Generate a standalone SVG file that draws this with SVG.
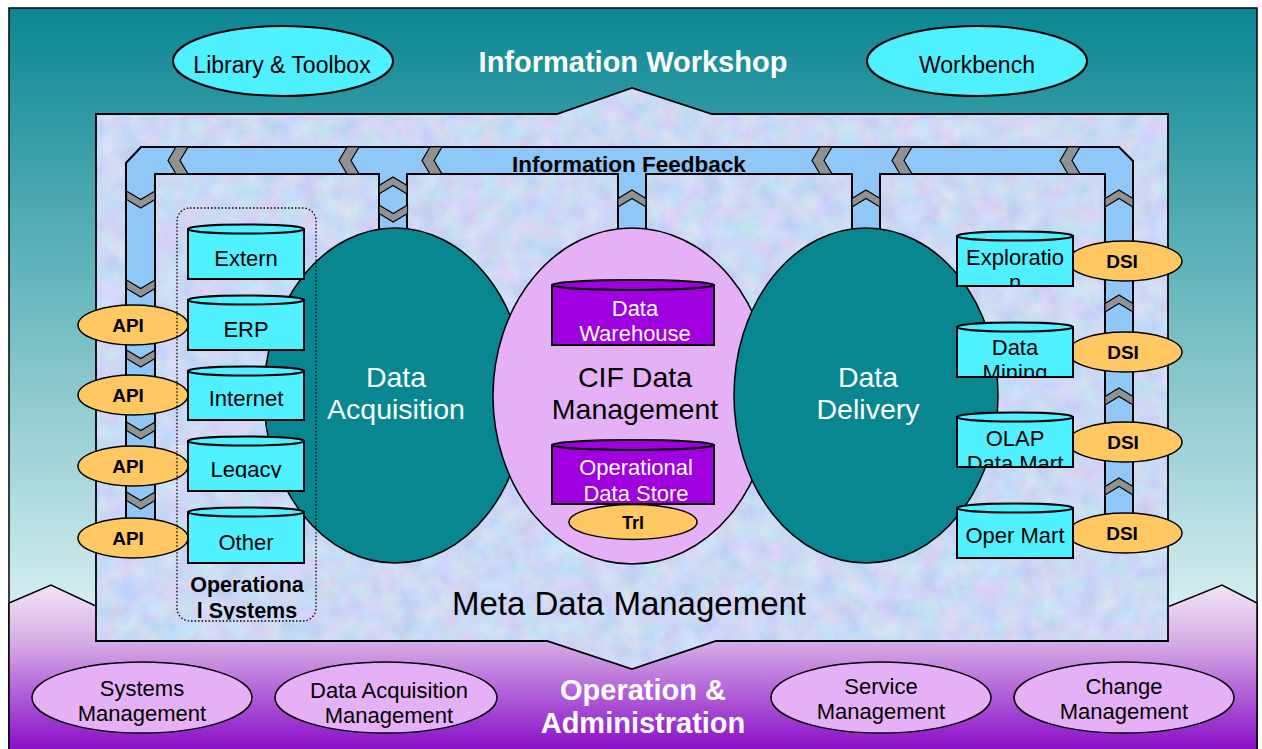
<svg xmlns="http://www.w3.org/2000/svg" width="1262" height="749" viewBox="0 0 1262 749">
<defs>
  <linearGradient id="gTop" x1="0" y1="8" x2="0" y2="610" gradientUnits="userSpaceOnUse">
    <stop offset="0" stop-color="#0a8793"/>
    <stop offset="1" stop-color="#d6eef0"/>
  </linearGradient>
  <linearGradient id="gBot" x1="0" y1="585" x2="0" y2="749" gradientUnits="userSpaceOnUse">
    <stop offset="0" stop-color="#f2e4f4"/>
    <stop offset="0.35" stop-color="#d6ace6"/>
    <stop offset="1" stop-color="#8a0ec8"/>
  </linearGradient>
  <filter id="tex" x="0" y="0" width="1" height="1" color-interpolation-filters="sRGB">
    <feTurbulence type="fractalNoise" baseFrequency="0.05" numOctaves="3" seed="7"/>
    <feColorMatrix type="matrix" values="0.22 0 0 0 0.69  0 0.15 0 0 0.775  0 0 0.1 0 0.91  0 0 0 0 1"/>
    <feComposite in2="SourceAlpha" operator="in"/>
  </filter>
  <path id="chL" d="M8,0 L20,0 L12,13.5 L20,27 L8,27 L0,13.5 Z"/>
  <path id="chD" d="M0,0 L14.25,8.5 L28.5,0 L28.5,8.5 L14.25,17 L0,8.5 Z"/>
  <path id="chU" d="M0,8.5 L14,0 L28,8.5 L28,17 L14,8.5 L0,17 Z"/>
  <clipPath id="cLegacy"><rect x="188" y="436" width="116" height="42"/></clipPath>
  <clipPath id="cExpl"><rect x="957" y="231" width="116" height="55"/></clipPath>
  <clipPath id="cMine"><rect x="957" y="322" width="116" height="55"/></clipPath>
  <clipPath id="cOlap"><rect x="957" y="412" width="116" height="55"/></clipPath>
  <clipPath id="cOps"><rect x="177" y="560" width="140" height="59.5"/></clipPath>
  <style>
    text { font-family: "Liberation Sans", Arial, sans-serif; text-anchor: middle; }
    .ln { stroke: #000; stroke-width: 1.8; }
    .cyan { fill: #4ff0ff; stroke: #000; stroke-width: 2; }
    .purp { fill: #a000e0; stroke: #000; stroke-width: 2; }
    .gold { fill: #ffc862; stroke: #000; stroke-width: 1.5; }
    .lav { fill: #e6b0f6; stroke: #000; stroke-width: 1.5; }
    .teal { fill: #088790; stroke: #000; stroke-width: 1.5; }
    .chev { fill: #929292; stroke: #000; stroke-width: 1.2; }
    .t22 { font-size: 22px; fill: #000; }
    .t23 { font-size: 23px; fill: #000; }
    .w22 { font-size: 22px; fill: #fff; }
    .w28 { font-size: 28.5px; fill: #fff; }
    .b19 { font-size: 19px; font-weight: bold; fill: #000; }
    .bw29 { font-size: 29px; font-weight: bold; fill: #fff; }
  </style>
</defs>

<g id="background">
  <rect x="9" y="8" width="1248" height="745" fill="url(#gTop)" stroke="#000" stroke-width="1.5"/>
  <path d="M9,603 L51,585 L100,608 L1165,608 L1222,585 L1257,603 L1257,752 L9,752 Z" fill="url(#gBot)" stroke="#000" stroke-width="1.5"/>
</g>

<g id="meta-panel">
  <path d="M96,114 L557,114 L632,88 L712,114 L1168,114 L1168,641 L716,641 L632,669 L547,641 L96,641 Z" fill="#fff" filter="url(#tex)"/>
  <path d="M96,114 L557,114 L632,88 L712,114 L1168,114 L1168,641 L716,641 L632,669 L547,641 L96,641 Z" fill="none" class="ln"/>
  <text x="629" y="615" style="font-size:33px;fill:#000">Meta Data Management</text>
</g>

<g id="workshop">
  <text x="633" y="72" class="bw29">Information Workshop</text>
</g>
<g id="library-toolbox">
  <ellipse cx="283" cy="61" rx="110" ry="35" class="cyan" stroke-width="1.8"/>
  <text x="282" y="73" class="t23">Library &amp; Toolbox</text>
</g>
<g id="workbench">
  <ellipse cx="977" cy="61" rx="110" ry="35" class="cyan" stroke-width="1.8"/>
  <text x="977" y="73" class="t23">Workbench</text>
</g>

<g id="connectors">
  <g id="information-feedback">
    <path d="M126,545 L126,163 L141,147 L1119,147 L1133,161 L1133,538 L1105,538 L1105,174 L880,174 L880,250 L852,250 L852,174 L646,174 L646,250 L618,250 L618,174 L407,174 L407,250 L379,250 L379,174 L155,174 L155,545 Z" fill="#8fc7f9" stroke="#000" stroke-width="2" stroke-linejoin="miter"/>
    <g class="chev">
      <use href="#chL" x="168" y="147"/>
      <use href="#chL" x="339" y="147"/>
      <use href="#chL" x="422" y="147"/>
      <use href="#chL" x="812" y="147"/>
      <use href="#chL" x="892" y="147"/>
      <use href="#chL" x="1060" y="147"/>
      <use href="#chD" x="126.5" y="191"/>
      <use href="#chD" x="126.5" y="280"/>
      <use href="#chD" x="126.5" y="350"/>
      <use href="#chD" x="126.5" y="422"/>
      <use href="#chD" x="126.5" y="492"/>
      <use href="#chU" x="379" y="177"/>
      <use href="#chD" x="379" y="205"/>
      <use href="#chU" x="618" y="190"/>
      <use href="#chU" x="852" y="190"/>
      <use href="#chU" x="1105" y="190"/>
      <use href="#chU" x="1105" y="295"/>
      <use href="#chU" x="1105" y="388"/>
      <use href="#chU" x="1105" y="478"/>
    </g>
    <text x="629" y="172" style="font-size:22.5px;font-weight:bold;fill:#000">Information Feedback</text>
  </g>
</g>

<g id="api-1"><ellipse cx="133" cy="325" rx="55" ry="20" class="gold"/><text x="128" y="332" class="b19">API</text></g>
<g id="api-2"><ellipse cx="133" cy="395" rx="55" ry="20" class="gold"/><text x="128" y="402" class="b19">API</text></g>
<g id="api-3"><ellipse cx="133" cy="466" rx="55" ry="20" class="gold"/><text x="128" y="473" class="b19">API</text></g>
<g id="api-4"><ellipse cx="133" cy="538" rx="55" ry="20" class="gold"/><text x="128" y="545" class="b19">API</text></g>

<g id="dsi-1"><ellipse cx="1125" cy="261" rx="57" ry="20" class="gold"/><text x="1122" y="268" class="b19">DSI</text></g>
<g id="dsi-2"><ellipse cx="1125" cy="352" rx="57" ry="20" class="gold"/><text x="1123" y="359" class="b19">DSI</text></g>
<g id="dsi-3"><ellipse cx="1125" cy="442" rx="57" ry="20" class="gold"/><text x="1123" y="449" class="b19">DSI</text></g>
<g id="dsi-4"><ellipse cx="1125" cy="533" rx="57" ry="20" class="gold"/><text x="1122" y="540" class="b19">DSI</text></g>

<g id="data-acquisition">
  <ellipse cx="395" cy="395.5" rx="131" ry="167.5" class="teal"/>
  <text x="396" y="387" class="w28">Data</text>
  <text x="396" y="419" class="w28">Acquisition</text>
</g>

<g id="cif-data-management">
  <ellipse cx="632" cy="396" rx="139" ry="168" class="lav"/>
  <text x="635" y="387" style="font-size:28.5px;fill:#000">CIF Data</text>
  <text x="635" y="419" style="font-size:28.5px;fill:#000">Management</text>
</g>

<g id="data-delivery">
  <ellipse cx="866" cy="395.5" rx="132" ry="167.5" class="teal"/>
  <text x="868" y="387" class="w28">Data</text>
  <text x="868" y="419" class="w28">Delivery</text>
</g>

<g id="data-warehouse">
  <rect x="552" y="285" width="162" height="60" class="purp"/>
  <ellipse cx="633" cy="285" rx="81" ry="5" class="purp"/>
  <text x="635" y="316" class="w22">Data</text>
  <text x="635" y="341" class="w22">Warehouse</text>
</g>

<g id="operational-data-store">
  <rect x="552" y="445" width="162" height="59" class="purp"/>
  <ellipse cx="633" cy="445" rx="81" ry="5" class="purp"/>
  <text x="636" y="475" class="w22">Operational</text>
  <text x="636" y="501" class="w22">Data Store</text>
</g>

<g id="trl">
  <ellipse cx="633" cy="522" rx="64" ry="17.5" class="gold"/>
  <text x="633" y="528.5" style="font-size:18px;font-weight:bold;fill:#000">Trl</text>
</g>

<g id="extern">
  <rect x="188" y="229" width="116" height="50" class="cyan"/>
  <ellipse cx="246" cy="229" rx="58" ry="4.5" class="cyan"/>
  <text x="246" y="266" class="t22">Extern</text>
</g>
<g id="erp">
  <rect x="188" y="300" width="116" height="50" class="cyan"/>
  <ellipse cx="246" cy="300" rx="58" ry="4.5" class="cyan"/>
  <text x="246" y="337" class="t22">ERP</text>
</g>
<g id="internet">
  <rect x="188" y="371" width="116" height="49" class="cyan"/>
  <ellipse cx="246" cy="371" rx="58" ry="4.5" class="cyan"/>
  <text x="246" y="406" class="t22">Internet</text>
</g>
<g id="legacy">
  <rect x="188" y="441" width="116" height="50" class="cyan"/>
  <ellipse cx="246" cy="441" rx="58" ry="4.5" class="cyan"/>
  <text x="246" y="477" class="t22" clip-path="url(#cLegacy)">Legacy</text>
</g>
<g id="other">
  <rect x="188" y="512" width="116" height="51" class="cyan"/>
  <ellipse cx="246" cy="512" rx="58" ry="4.5" class="cyan"/>
  <text x="246" y="550" class="t22">Other</text>
</g>

<g id="operational-systems">
  <rect x="177" y="208" width="139" height="413" rx="13" fill="none" stroke="#000" stroke-width="1.3" stroke-dasharray="1.5 2"/>
  <g clip-path="url(#cOps)">
    <text x="247" y="592" style="font-size:21.5px;font-weight:bold;fill:#000">Operationa</text>
    <text x="247" y="618" style="font-size:21.5px;font-weight:bold;fill:#000">l Systems</text>
  </g>
</g>

<g id="exploration">
  <rect x="957" y="236" width="116" height="50" class="cyan"/>
  <ellipse cx="1015" cy="236" rx="58" ry="4.5" class="cyan"/>
  <g clip-path="url(#cExpl)">
    <text x="1015" y="265" class="t22">Exploratio</text>
    <text x="1015" y="290" class="t22">n</text>
  </g>
</g>
<g id="data-mining">
  <rect x="957" y="327" width="116" height="50" class="cyan"/>
  <ellipse cx="1015" cy="327" rx="58" ry="4.5" class="cyan"/>
  <g clip-path="url(#cMine)">
    <text x="1015" y="355" class="t22">Data</text>
    <text x="1015" y="380" class="t22">Mining</text>
  </g>
</g>
<g id="olap-data-mart">
  <rect x="957" y="417" width="116" height="50" class="cyan"/>
  <ellipse cx="1015" cy="417" rx="58" ry="4.5" class="cyan"/>
  <g clip-path="url(#cOlap)">
    <text x="1015" y="446" class="t22">OLAP</text>
    <text x="1015" y="471" class="t22">Data Mart</text>
  </g>
</g>
<g id="oper-mart">
  <rect x="957" y="508" width="116" height="50" class="cyan"/>
  <ellipse cx="1015" cy="508" rx="58" ry="4.5" class="cyan"/>
  <text x="1015" y="543" class="t22">Oper Mart</text>
</g>

<g id="operation-administration">
  <text x="643" y="700" class="bw29">Operation &amp;</text>
  <text x="643" y="733" class="bw29">Administration</text>
</g>
<g id="systems-management">
  <ellipse cx="142" cy="697.5" rx="110" ry="35.5" class="lav"/>
  <text x="142" y="696" class="t22">Systems</text>
  <text x="142" y="721" class="t22">Management</text>
</g>
<g id="data-acquisition-management">
  <ellipse cx="386" cy="697.5" rx="111" ry="35.5" class="lav"/>
  <text x="389" y="698" class="t22">Data Acquisition</text>
  <text x="389" y="723" class="t22">Management</text>
</g>
<g id="service-management">
  <ellipse cx="881" cy="697.5" rx="110" ry="35.5" class="lav"/>
  <text x="881" y="694" class="t22">Service</text>
  <text x="881" y="719" class="t22">Management</text>
</g>
<g id="change-management">
  <ellipse cx="1124" cy="697.5" rx="110" ry="35.5" class="lav"/>
  <text x="1124" y="694" class="t22">Change</text>
  <text x="1124" y="719" class="t22">Management</text>
</g>
</svg>
